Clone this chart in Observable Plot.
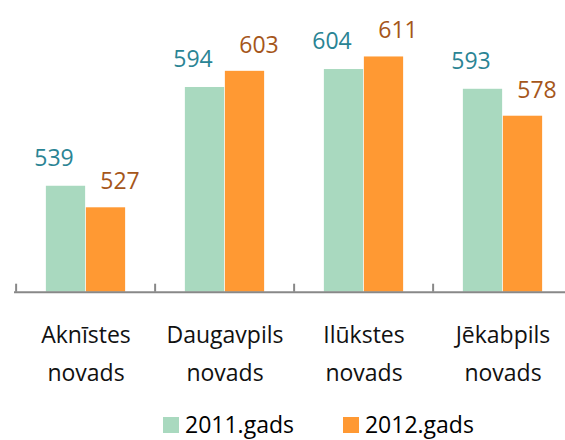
<!DOCTYPE html>
<html><head><meta charset="utf-8">
<script src="https://cdn.jsdelivr.net/npm/d3@7"></script>
<script src="https://cdn.jsdelivr.net/npm/@observablehq/plot@0.6"></script>
<style>
html,body{margin:0;padding:0;background:#fff;overflow:hidden;}
body{font-family:"Open Sans",sans-serif;width:565px;height:440px;}
#legend{height:23px;line-height:23px;font-size:23px;color:#000;margin-top:13px;padding-left:163px;white-space:nowrap;}
#legend .item{display:inline-block;}
#legend .sw{display:inline-block;width:16px;height:16px;vertical-align:baseline;margin-right:6px;}
#legend .item + .item{margin-left:49px;}
</style></head>
<body><div id="chart"></div><div id="legend"></div>
<script>
const categories = ["Aknīstes", "Daugavpils", "Ilūkstes", "Jēkabpils"];
const tickLabels = ["Aknīstes\nnovads", "Daugavpils\nnovads", "Ilūkstes\nnovads", "Jēkabpils\nnovads"];
const seriesNames = ["2011.gads", "2012.gads"];
const values2011 = [539, 594, 604, 593];
const values2012 = [527, 603, 611, 578];
const yDomain = [480, 620];

const barColors = ["#A9D9BF", "#FF9933"];
const labelColors = ["#2A8494", "#A5561A"];

const d2011 = categories.map((c, i) => ({cat: c, value: values2011[i]}));
const d2012 = categories.map((c, i) => ({cat: c, value: values2012[i]}));

const W = 565, H = 400, x0 = 14, x1 = 573, yBase = 291.7, yTop = 40.3;
const step = (x1 - x0) / categories.length, barW = 40;
const pxPerUnit = (yBase - yTop) / (yDomain[1] - yDomain[0]);
const axisColor = "#888888";

const chart = Plot.plot({
  width: W, height: H,
  marginLeft: x0, marginRight: 0, marginTop: 0, marginBottom: 0,
  style: {fontFamily: "Open Sans", overflow: "hidden"},
  x: {domain: categories, range: [x0, x1], padding: 0, axis: null},
  y: {domain: yDomain, range: [yBase, yTop], axis: null},
  marks: [
    Plot.barY(d2011, {x: "cat", y1: yDomain[0], y2: "value", fill: barColors[0],
      insetLeft: step / 2 - barW, insetRight: step / 2}),
    Plot.barY(d2012, {x: "cat", y1: yDomain[0], y2: "value", fill: barColors[1],
      insetLeft: step / 2, insetRight: step / 2 - barW}),
    Plot.ruleY([yDomain[0]], {stroke: axisColor, strokeWidth: 2}),
    Plot.ruleX(categories, {x: d => d, dx: -step / 2, y1: yDomain[0], y2: yDomain[0] + 8 / pxPerUnit,
      stroke: axisColor, strokeWidth: 2}),
    Plot.text(d2011, {x: "cat", y: "value", text: d => String(d.value), dx: -barW / 2 - 12, dy: -28,
      fill: labelColors[0], fontSize: 23}),
    Plot.text(d2012, {x: "cat", y: "value", text: d => String(d.value), dx: barW / 2 + 14, dy: -26,
      fill: labelColors[1], fontSize: 23}),
    Plot.text(categories, {x: d => d, y: yDomain[0], text: (d, i) => tickLabels[i],
      lineAnchor: "top", dy: 24, lineHeight: 1.64, fontSize: 23, fill: "#111"})
  ]
});
document.getElementById("chart").appendChild(chart);

const legend = document.getElementById("legend");
seriesNames.forEach((s, i) => {
  const it = document.createElement("span");
  it.className = "item";
  const sw = document.createElement("span");
  sw.className = "sw";
  sw.style.background = barColors[i];
  it.appendChild(sw);
  it.appendChild(document.createTextNode(s));
  legend.appendChild(it);
});
</script>
</body></html>
